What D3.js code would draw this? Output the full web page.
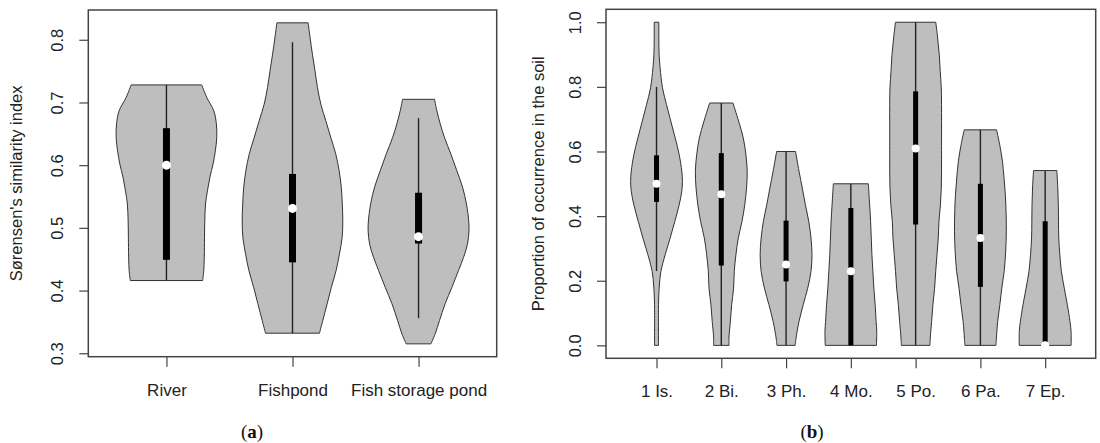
<!DOCTYPE html>
<html>
<head>
<meta charset="utf-8">
<style>
  body { margin: 0; background: #fff; }
  svg { display: block; }
  .axis text { font: 16.5px "Liberation Sans", Arial, sans-serif; fill: #222; }
  .axis.xax text { font-size: 17px; }
  .axis line { stroke: #444; stroke-width: 1.2; }
  .ytitle { font: 16.5px "Liberation Sans", Arial, sans-serif; fill: #222; }
  .caption { font: 19px "Liberation Serif", "DejaVu Serif", serif; fill: #111; }
</style>
</head>
<body>
<svg id="chart" width="1100" height="443"></svg>
<script src="https://d3js.org/d3.v7.min.js"></script>
<script>
// ---- panel (a): Sorensen similarity ----
var simLabels = ["River", "Fishpond", "Fish storage pond"];
var simTicks = [0.3, 0.4, 0.5, 0.6, 0.7, 0.8];
var simQ1 = [0.449, 0.445, 0.475];
var simQ3 = [0.659, 0.586, 0.556];
var simMedian = [0.600, 0.531, 0.486];
var simWhiskLow = [0.416, 0.332, 0.356];
var simWhiskHigh = [0.728, 0.796, 0.675];

// violin outlines: [value, half width in category units]
var riverShape = [[0.728,0.28],[0.708,0.32],[0.687,0.375],[0.666,0.396],[0.644,0.399],[0.623,0.388],[0.602,0.37],
  [0.581,0.345],[0.559,0.325],[0.538,0.31],[0.511,0.304],[0.485,0.302],[0.453,0.30],[0.432,0.296],[0.416,0.287]];
var fishpondShape = [[0.827,0.124],[0.804,0.139],[0.777,0.158],[0.751,0.178],[0.724,0.198],[0.697,0.225],[0.671,0.264],
  [0.644,0.304],[0.618,0.343],[0.591,0.37],[0.565,0.387],[0.538,0.395],[0.511,0.399],[0.485,0.394],[0.458,0.372],
  [0.432,0.346],[0.405,0.308],[0.379,0.275],[0.352,0.24],[0.332,0.214]];
var storageShape = [[0.705,0.127],[0.687,0.145],[0.666,0.172],[0.644,0.206],[0.618,0.256],[0.591,0.304],[0.565,0.349],
  [0.538,0.38],[0.511,0.398],[0.495,0.4],[0.474,0.388],[0.453,0.357],[0.432,0.317],[0.405,0.264],[0.379,0.211],
  [0.352,0.166],[0.331,0.132],[0.315,0.098]];
var simShapes = [riverShape, fishpondShape, storageShape];

// ---- panel (b): proportion of occurrence in the soil ----
var soilLabels = ["1 Is.", "2 Bi.", "3 Ph.", "4 Mo.", "5 Po.", "6 Pa.", "7 Ep."];
var soilTicks = [0, 0.2, 0.4, 0.6, 0.8, 1.0];
var soilQ1 = [0.444, 0.247, 0.198, 0.0, 0.374, 0.181, 0.0];
var soilQ3 = [0.588, 0.595, 0.386, 0.425, 0.786, 0.500, 0.384];
var soilMedian = [0.500, 0.468, 0.250, 0.229, 0.609, 0.332, 0.0];
var soilWhiskLow = [0.23, 0, 0, 0, 0, 0, 0];
var soilWhiskHigh = [0.80, 0.75, 0.60, 0.50, 1.0, 0.667, 0.54];

var is1Shape = [[1.0,0.036],[0.951,0.036],[0.90,0.04],[0.859,0.055],[0.797,0.092],[0.745,0.154],[0.694,0.22],[0.642,0.288],
  [0.59,0.35],[0.539,0.39],[0.508,0.40],[0.477,0.39],[0.435,0.35],[0.384,0.283],[0.332,0.21],[0.281,0.134],[0.229,0.067],
  [0.177,0.041],[0.126,0.031],[0.0,0.031]];
var bi2Shape = [[0.75,0.18],[0.694,0.267],[0.642,0.339],[0.59,0.38],[0.539,0.40],[0.487,0.39],[0.435,0.362],[0.384,0.32],
  [0.332,0.262],[0.281,0.226],[0.229,0.20],[0.177,0.19],[0.126,0.16],[0.074,0.14],[0.023,0.118],[0.0,0.12]];
var ph3Shape = [[0.60,0.146],[0.539,0.20],[0.487,0.25],[0.435,0.298],[0.384,0.35],[0.332,0.385],[0.281,0.40],[0.229,0.385],
  [0.177,0.334],[0.126,0.265],[0.074,0.20],[0.023,0.154],[0.0,0.141]];
var mo4Shape = [[0.50,0.27],[0.435,0.29],[0.384,0.305],[0.332,0.315],[0.281,0.325],[0.229,0.34],[0.177,0.355],[0.126,0.375],
  [0.074,0.39],[0.043,0.40],[0.0,0.395]];
var po5Shape = [[1.0,0.311],[0.951,0.34],[0.90,0.365],[0.848,0.38],[0.797,0.396],[0.745,0.40],[0.642,0.40],[0.59,0.40],
  [0.539,0.40],[0.487,0.396],[0.435,0.383],[0.384,0.36],[0.332,0.35],[0.281,0.33],[0.229,0.31],[0.177,0.293],[0.126,0.267],
  [0.074,0.247],[0.023,0.226],[0.0,0.221]];
var pa6Shape = [[0.667,0.25],[0.621,0.298],[0.57,0.34],[0.518,0.365],[0.466,0.385],[0.415,0.396],[0.353,0.40],[0.291,0.39],
  [0.229,0.367],[0.177,0.33],[0.126,0.30],[0.074,0.267],[0.023,0.247],[0.0,0.24]];
var ep7Shape = [[0.541,0.18],[0.487,0.195],[0.435,0.203],[0.384,0.206],[0.332,0.21],[0.281,0.226],[0.229,0.25],[0.177,0.295],
  [0.126,0.342],[0.074,0.383],[0.043,0.40],[0.0,0.40]];
var soilShapes = [is1Shape, bi2Shape, ph3Shape, mo4Shape, po5Shape, pa6Shape, ep7Shape];

var svg = d3.select("#chart");
svg.append("rect").attr("width", 1100).attr("height", 443).attr("fill", "#fff");

function violinPanel(opt) {
  var n = opt.labels.length;
  // R style: 4% padding around the data range
  var all = [];
  opt.shapes.forEach(function(s) { s.forEach(function(p) { all.push(p[0]); }); });
  var ext = d3.extent(all), pad = (ext[1] - ext[0]) * 0.04;
  var y = d3.scaleLinear().domain([ext[0] - pad, ext[1] + pad]).range([opt.bottom, opt.top]);
  var xpad = n * 0.04;
  var x = d3.scaleLinear().domain([0.5 - xpad, n + 0.5 + xpad]).range([opt.left, opt.right]);

  var g = svg.append("g");

  opt.shapes.forEach(function(shape, i) {
    var c = i + 1;
    var area = d3.area()
      .curve(d3.curveCatmullRom)
      .y(function(d) { return y(d[0]); })
      .x0(function(d) { return x(c - d[1]); })
      .x1(function(d) { return x(c + d[1]); });
    g.append("path")
      .datum(shape)
      .attr("d", area)
      .attr("fill", "#bebebe")
      .attr("stroke", "#333")
      .attr("stroke-width", 1);
    g.append("line")
      .attr("x1", x(c)).attr("x2", x(c))
      .attr("y1", y(opt.whiskLow[i])).attr("y2", y(opt.whiskHigh[i]))
      .attr("stroke", "#222").attr("stroke-width", 1.4);
    g.append("rect")
      .attr("x", x(c) - opt.boxW / 2)
      .attr("width", opt.boxW)
      .attr("y", y(opt.q3[i]))
      .attr("height", y(opt.q1[i]) - y(opt.q3[i]))
      .attr("fill", "#000");
    g.append("circle")
      .attr("cx", x(c)).attr("cy", y(opt.median[i]))
      .attr("r", opt.dotR)
      .attr("fill", "#fff");
  });

  // axes
  var ya = g.append("g")
    .attr("class", "axis")
    .attr("transform", "translate(" + opt.left + ",0)")
    .call(d3.axisLeft(y).tickValues(opt.ticks).tickSize(9).tickFormat(d3.format(".1f")));
  ya.select(".domain").remove();
  ya.selectAll("text")
    .attr("x", null).attr("dy", null)
    .attr("text-anchor", "middle")
    .attr("transform", "translate(-25,0) rotate(-90)");

  var xa = g.append("g")
    .attr("class", "axis xax")
    .attr("transform", "translate(0," + opt.bottom + ")")
    .call(d3.axisBottom(x).tickValues(d3.range(1, n + 1)).tickSize(10)
      .tickFormat(function(d) { return opt.labels[d - 1]; }));
  xa.select(".domain").remove();
  xa.selectAll("text").attr("y", 39).attr("dy", null);

  // frame
  g.append("rect")
    .attr("x", opt.left).attr("y", opt.top)
    .attr("width", opt.right - opt.left).attr("height", opt.bottom - opt.top)
    .attr("fill", "none").attr("stroke", "#444").attr("stroke-width", 1.5);

  g.append("text")
    .attr("class", "ytitle")
    .attr("text-anchor", "middle")
    .attr("transform", "translate(" + opt.titleX + "," + (opt.top + opt.bottom) / 2 + ") rotate(-90)")
    .text(opt.title);

  var cap = g.append("text")
    .attr("class", "caption")
    .attr("x", opt.capX).attr("y", 438)
    .attr("text-anchor", "middle");
  cap.append("tspan").text("(");
  cap.append("tspan").attr("font-weight", "bold").text(opt.caption);
  cap.append("tspan").text(")");
}

violinPanel({
  labels: simLabels, ticks: simTicks, shapes: simShapes,
  q1: simQ1, q3: simQ3, median: simMedian, whiskLow: simWhiskLow, whiskHigh: simWhiskHigh,
  left: 88.3, right: 496.7, top: 10, bottom: 356.7,
  boxW: 7, dotR: 4.5, titleX: 21.5, title: "Sørensen's similarity index",
  capX: 252, caption: "a"
});

violinPanel({
  labels: soilLabels, ticks: soilTicks, shapes: soilShapes,
  q1: soilQ1, q3: soilQ3, median: soilMedian, whiskLow: soilWhiskLow, whiskHigh: soilWhiskHigh,
  left: 606, right: 1095.7, top: 9.3, bottom: 358.3,
  boxW: 5, dotR: 4, titleX: 543.5, title: "Proportion of occurrence in the soil",
  capX: 812, caption: "b"
});
</script>
</body>
</html>
